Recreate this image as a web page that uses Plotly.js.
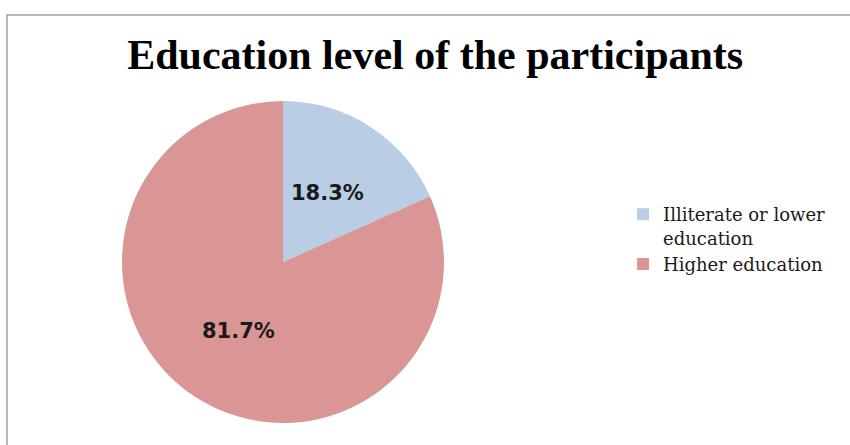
<!DOCTYPE html>
<html>
<head>
<meta charset="utf-8">
<script src="https://cdn.plot.ly/plotly-3.0.1.min.js"></script>
<style>html,body{margin:0;padding:0;background:#fff;}#chart{width:850px;height:445px;}</style>
</head>
<body>
<div id="chart"></div>
<script>
const categories = ["Illiterate or lower<br>education", "Higher education"];
const values = [18.3, 81.7];
const colors = ["#B9CDE5", "#D99694"];
const percentLabels = ["18.3%", "81.7%"];

const W = 850, H = 445;
const cx = 283, cy = 262, r = 161;

const dom = {x: [(cx - r) / W, (cx + r) / W], y: [(H - cy - r) / H, (H - cy + r) / H]};

const data = [{
  type: "pie",
  labels: categories,
  values: values,
  sort: false,
  direction: "clockwise",
  rotation: 0,
  marker: {colors: colors, line: {width: 0}},
  textinfo: "none",
  hoverinfo: "none",
  domain: dom
}];

// percentage labels at the middle angle of each slice, half-way out
const total = values.reduce((a, b) => a + b, 0);
let acc = 0;
const annotations = values.map((v, i) => {
  const mid = (acc + v / 2) / total * 2 * Math.PI;
  acc += v;
  const px = cx + 0.51 * r * Math.sin(mid);
  const py = cy - 0.51 * r * Math.cos(mid);
  return {
    xref: "paper", yref: "paper", x: px / W, y: 1 - py / H,
    xanchor: "center", yanchor: "middle", showarrow: false,
    text: "<b>" + percentLabels[i] + "</b>",
    font: {family: "DejaVu Sans", size: 21, color: "#1a1a1a"}
  };
});

const layout = {
  width: W, height: H,
  margin: {l: 0, r: 0, t: 0, b: 0},
  paper_bgcolor: "#ffffff",
  showlegend: true,
  title: {
    text: "<b>Education level of the participants</b>",
    font: {family: "Liberation Serif", size: 42, color: "#000000"},
    x: 0.512, xanchor: "center", y: 1 - 54 / H, yanchor: "middle"
  },
  legend: {
    x: 0.733, y: 1 - 196 / H, xanchor: "left", yanchor: "top",
    font: {family: "DejaVu Serif", size: 18, color: "#1a1a1a"},
    valign: "top", itemwidth: 30
  },
  annotations: annotations,
  shapes: [{
    type: "rect", xref: "paper", yref: "paper",
    x0: 7 / W, x1: 1.01, y0: -0.02, y1: 1 - 15 / H,
    line: {color: "#a0a0a0", width: 1.5}
  }]
};

Plotly.newPlot("chart", data, layout, {displayModeBar: false, staticPlot: true});
</script>
</body>
</html>
